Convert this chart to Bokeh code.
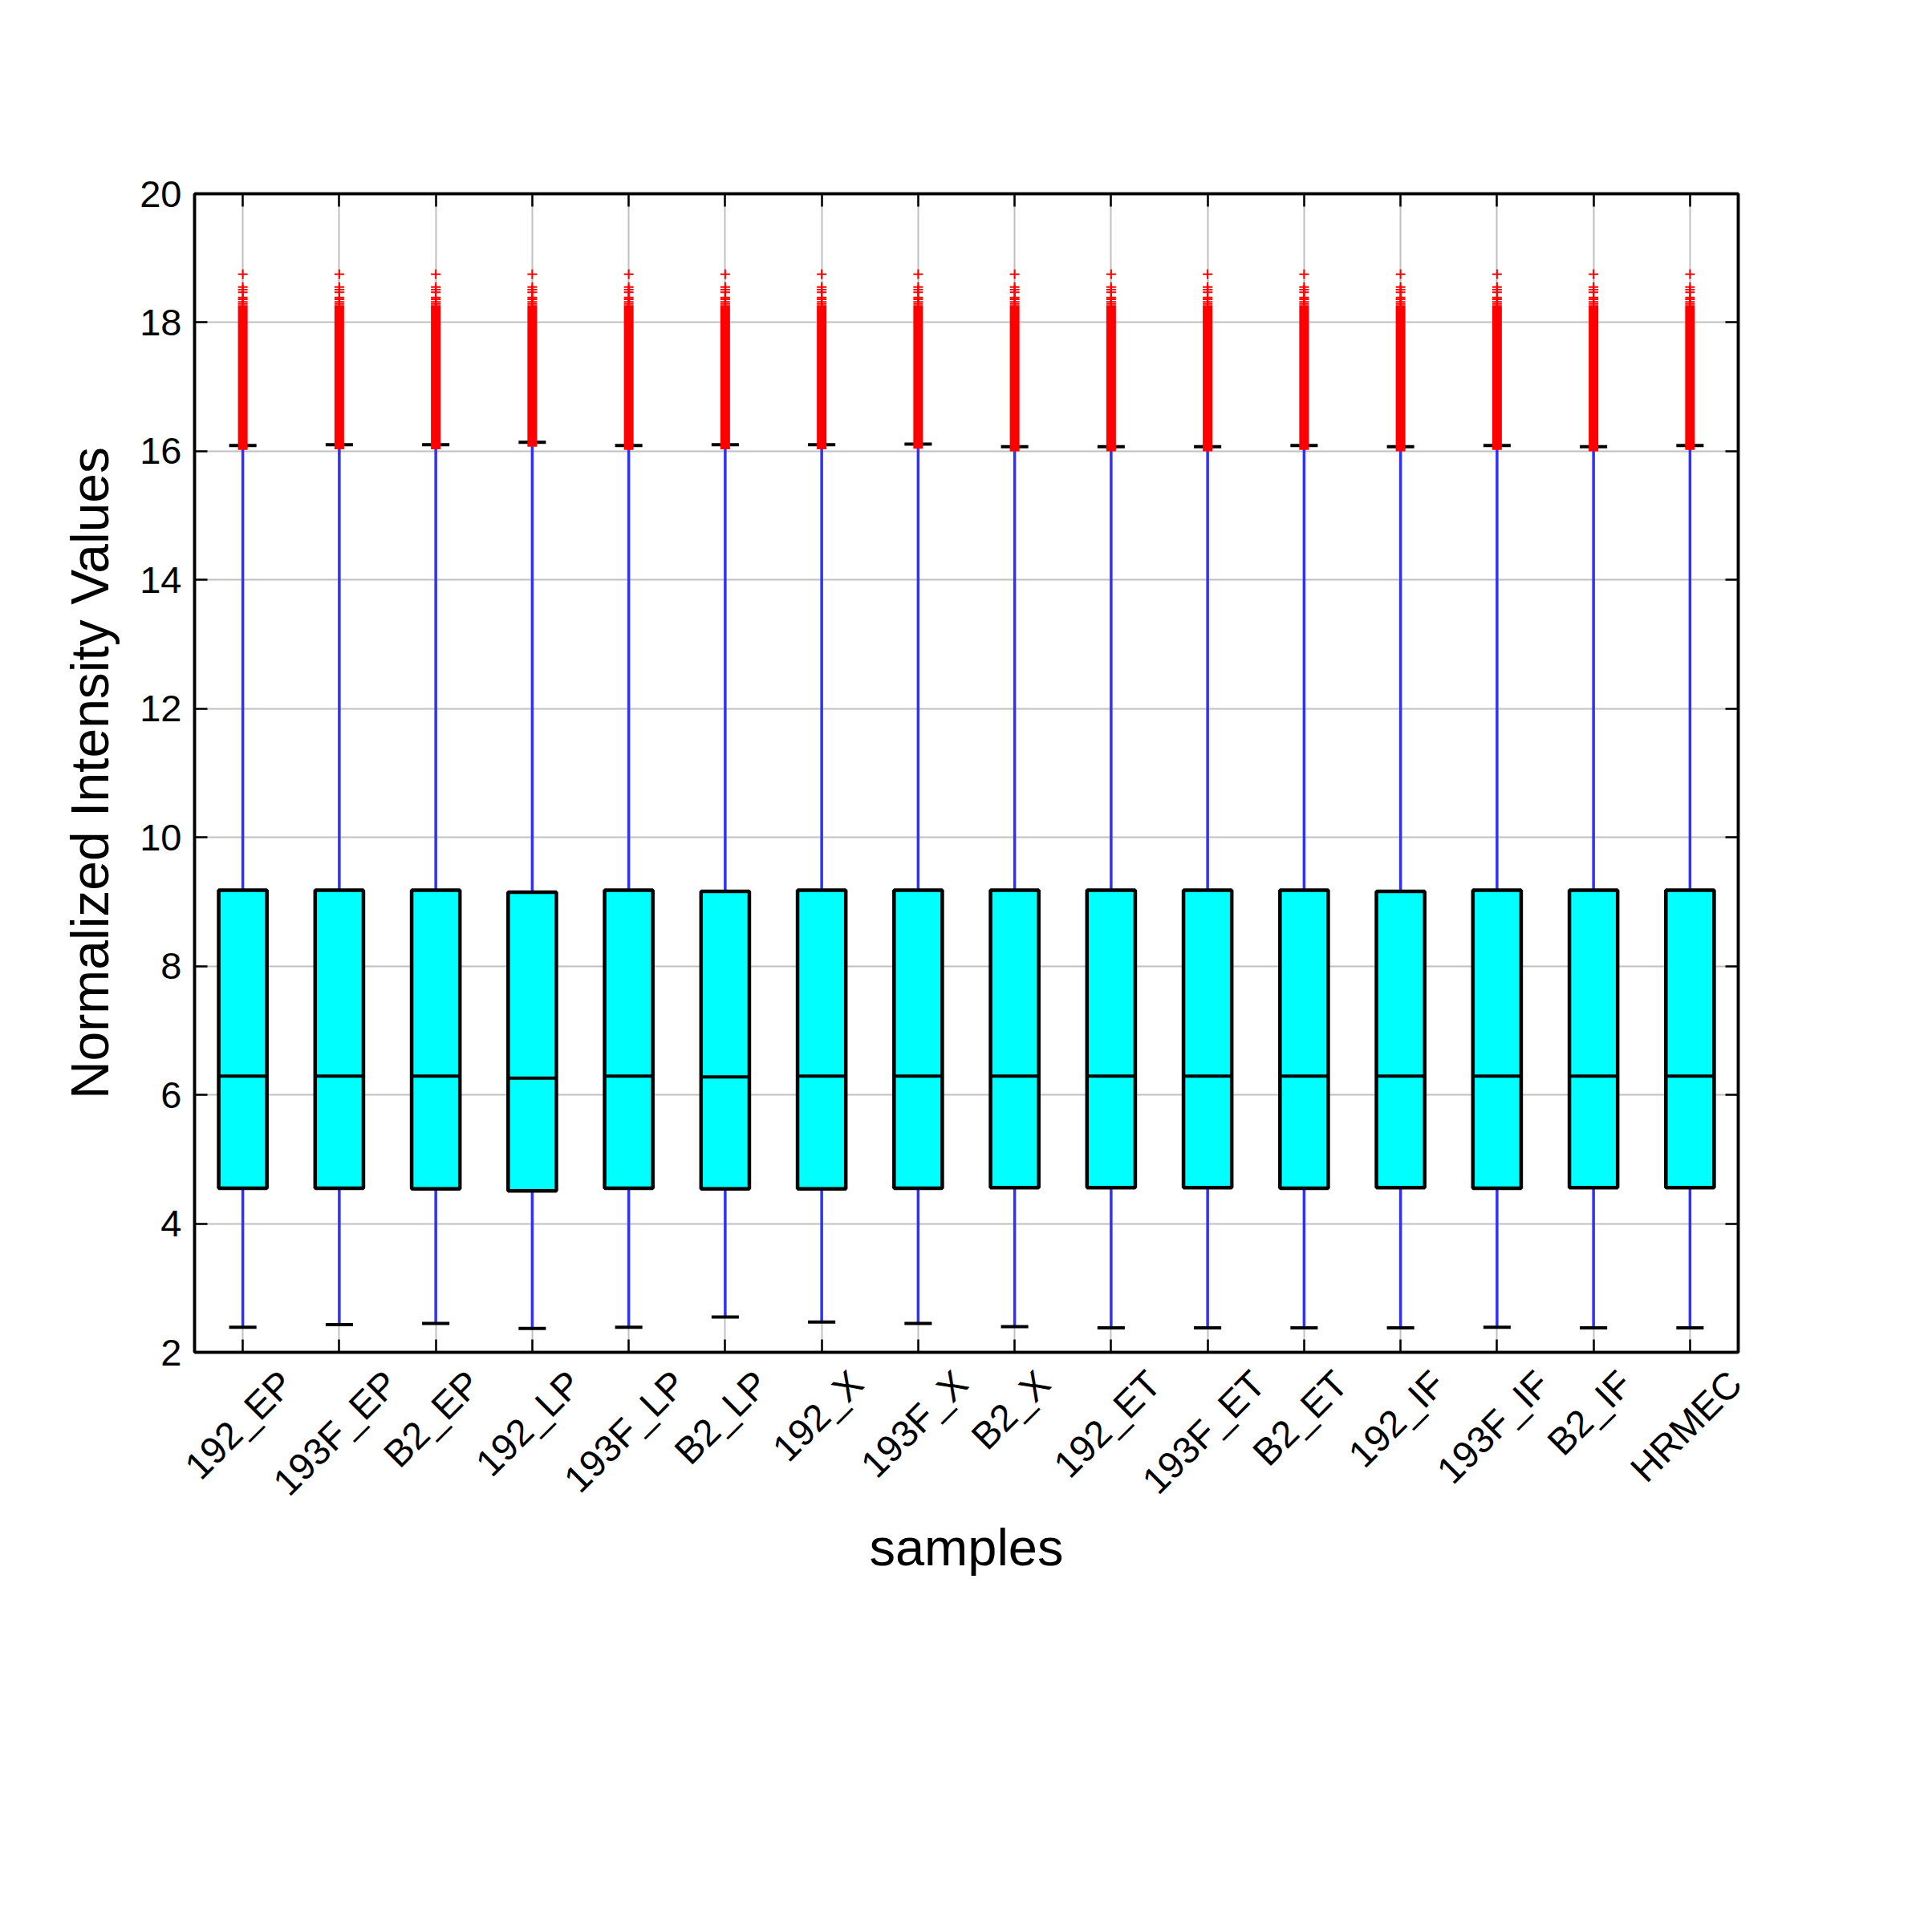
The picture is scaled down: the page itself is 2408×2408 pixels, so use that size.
import math
from bokeh.plotting import figure
from bokeh.models import Range1d, FixedTicker, LinearAxis, ColumnDataSource, Grid
from bokeh.embed import file_html
from bokeh.resources import INLINE

# ---------------- data ----------------
samples = ["192_EP", "193F_EP", "B2_EP", "192_LP", "193F_LP", "B2_LP", "192_X", "193F_X",
           "B2_X", "192_ET", "193F_ET", "B2_ET", "192_IF", "193F_IF", "B2_IF", "HRMEC"]
whisker_low = [2.39, 2.43, 2.45, 2.37, 2.39, 2.55, 2.47, 2.45,
               2.40, 2.38, 2.38, 2.38, 2.38, 2.39, 2.38, 2.38]
q1 = [4.55, 4.55, 4.54, 4.51, 4.55, 4.54, 4.54, 4.55,
      4.56, 4.56, 4.56, 4.55, 4.56, 4.55, 4.56, 4.56]
median = [6.29, 6.29, 6.29, 6.26, 6.29, 6.28, 6.29, 6.29,
          6.29, 6.29, 6.29, 6.29, 6.29, 6.29, 6.29, 6.29]
q3 = [9.18, 9.18, 9.18, 9.15, 9.18, 9.16, 9.18, 9.18,
      9.18, 9.18, 9.18, 9.18, 9.16, 9.18, 9.18, 9.18]
whisker_high = [16.09, 16.10, 16.10, 16.14, 16.09, 16.10, 16.10, 16.11,
                16.07, 16.07, 16.07, 16.09, 16.07, 16.09, 16.07, 16.09]
# dense run of outliers from the upper whisker up to this value
outlier_dense_top = [18.27] * 16
# sparse individual outliers above the dense run (same for every sample)
outlier_sparse = [18.29, 18.32, 18.36, 18.39, 18.47, 18.51, 18.55, 18.75]
y_ticks = [2, 4, 6, 8, 10, 12, 14, 16, 18, 20]

FONT = "Liberation Sans"
TICK_FS = 47
LABEL_FS = 66

xs = list(range(1, len(samples) + 1))

W, H = 2392, 2392
BL, BR, BT, BB = 242, 226, 241, 707
p = figure(width=W, height=H, output_backend="svg", toolbar_location=None,
           x_range=Range1d(0.5, len(samples) + 0.5), y_range=Range1d(2, 20),
           min_border_left=BL, min_border_right=BR, min_border_top=BT,
           min_border_bottom=BB, x_axis_type=None, y_axis_type=None)
p.background_fill_color = "white"
p.border_fill_color = "white"
p.outline_line_color = "black"
p.outline_line_width = 3.5

px_per_x = (W - BL - BR) / len(samples)


def style_axis(ax, ticks, labels=True):
    ax.ticker = FixedTicker(ticks=ticks)
    ax.major_tick_in = 16
    ax.major_tick_out = 0
    ax.minor_tick_line_color = None
    ax.major_tick_line_color = "black"
    ax.major_tick_line_width = 2.5
    ax.axis_line_color = "black"
    ax.axis_line_width = 3.5
    if not labels:
        ax.major_label_overrides = {t: "" for t in ticks}
        ax.major_label_text_font_size = "0px"
        ax.major_label_standoff = 0


# left axis
yl = LinearAxis()
style_axis(yl, y_ticks)
yl.major_label_text_font = FONT
yl.major_label_text_font_size = f"{TICK_FS}px"
yl.major_label_text_color = "black"
yl.major_label_standoff = 16
yl.axis_label = "Normalized Intensity Values"
yl.axis_label_text_font = FONT
yl.axis_label_text_font_size = f"{LABEL_FS}px"
yl.axis_label_text_font_style = "normal"
yl.axis_label_text_color = "black"
yl.axis_label_standoff = 22
p.add_layout(yl, "left")

yr = LinearAxis()
style_axis(yr, y_ticks, labels=False)
p.add_layout(yr, "right")

xb = LinearAxis()
style_axis(xb, xs, labels=False)
p.add_layout(xb, "below")

xt = LinearAxis()
style_axis(xt, xs, labels=False)
p.add_layout(xt, "above")

# rotated sample labels, centred on their tick like matplotlib (ha='center', rotation=45):
# Bokeh right-aligns rotated labels at the tick, so shift each label tick by half
# of the rotated text's horizontal extent.
AW = {"0": 556, "1": 556, "2": 556, "3": 556, "9": 556, "_": 556, "E": 667, "P": 667,
      "F": 611, "B": 667, "L": 556, "X": 667, "T": 611, "I": 278, "H": 722, "R": 722,
      "M": 833, "C": 722}
lab_ticks, lab_over = [], {}
for x, s in zip(xs, samples):
    w = sum(AW.get(c, 556) for c in s) / 1000.0 * TICK_FS
    t = round(min(x + (0.3536 * w - 5) / px_per_x, len(samples) + 0.499), 3)
    lab_ticks.append(t)
    lab_over[t] = s
xl = LinearAxis()
xl.ticker = FixedTicker(ticks=lab_ticks)
xl.major_label_overrides = lab_over
xl.major_label_orientation = math.pi / 4
xl.major_label_text_font = FONT
xl.major_label_text_font_size = f"{TICK_FS}px"
xl.major_label_text_color = "black"
xl.major_label_standoff = 31
xl.major_tick_line_color = None
xl.minor_tick_line_color = None
xl.major_tick_in = 0
xl.major_tick_out = 0
xl.axis_line_color = None
xl.axis_label = "samples"
xl.axis_label_text_font = FONT
xl.axis_label_text_font_size = f"{LABEL_FS - 1}px"
xl.axis_label_text_font_style = "normal"
xl.axis_label_text_color = "black"
xl.axis_label_standoff = -4
p.add_layout(xl, "below")

# grids
gx = Grid(dimension=0, ticker=FixedTicker(ticks=xs), grid_line_color="#c0c0c0", grid_line_width=2)
gy = Grid(dimension=1, ticker=FixedTicker(ticks=y_ticks), grid_line_color="#c0c0c0", grid_line_width=2)
p.add_layout(gx)
p.add_layout(gy)

src = ColumnDataSource(dict(x=xs, lo=whisker_low, q1=q1, med=median, q3=q3, hi=whisker_high,
                            dtop=outlier_dense_top,
                            dbot=[h - 0.07 for h in whisker_high]))

BLUE = "#3030ff"
# whiskers
p.segment(x0="x", y0="q3", x1="x", y1="hi", source=src, line_color=BLUE, line_width=3.5)
p.segment(x0="x", y0="q1", x1="x", y1="lo", source=src, line_color=BLUE, line_width=3.5)
# boxes
p.vbar(x="x", width=0.5, bottom="q1", top="q3", source=src, fill_color="#00ffff",
       line_color="black", line_width=4.5)
# medians
med_src = ColumnDataSource(dict(x0=[x - 0.25 for x in xs], x1=[x + 0.25 for x in xs], y=median))
p.segment(x0="x0", y0="y", x1="x1", y1="y", source=med_src, line_color="black", line_width=4)
# caps
cap_src = ColumnDataSource(dict(x0=[x - 0.125 for x in xs], x1=[x + 0.125 for x in xs],
                                lo=whisker_low, hi=whisker_high))
p.segment(x0="x0", y0="lo", x1="x1", y1="lo", source=cap_src, line_color="black",
          line_width=4, line_cap="square")
p.segment(x0="x0", y0="hi", x1="x1", y1="hi", source=cap_src, line_color="black",
          line_width=4, line_cap="square")
# outliers: dense run + sparse markers
p.vbar(x="x", width=0.1, bottom="dbot", top="dtop", source=src, fill_color="#ff0000",
       line_color=None)
ox, oy = [], []
for x in xs:
    for v in outlier_sparse:
        ox.append(x)
        oy.append(v)
p.scatter(ox, oy, marker="cross", size=12, line_color="#ff0000", line_width=2)

open("out.html", "w").write(file_html(p, INLINE))
